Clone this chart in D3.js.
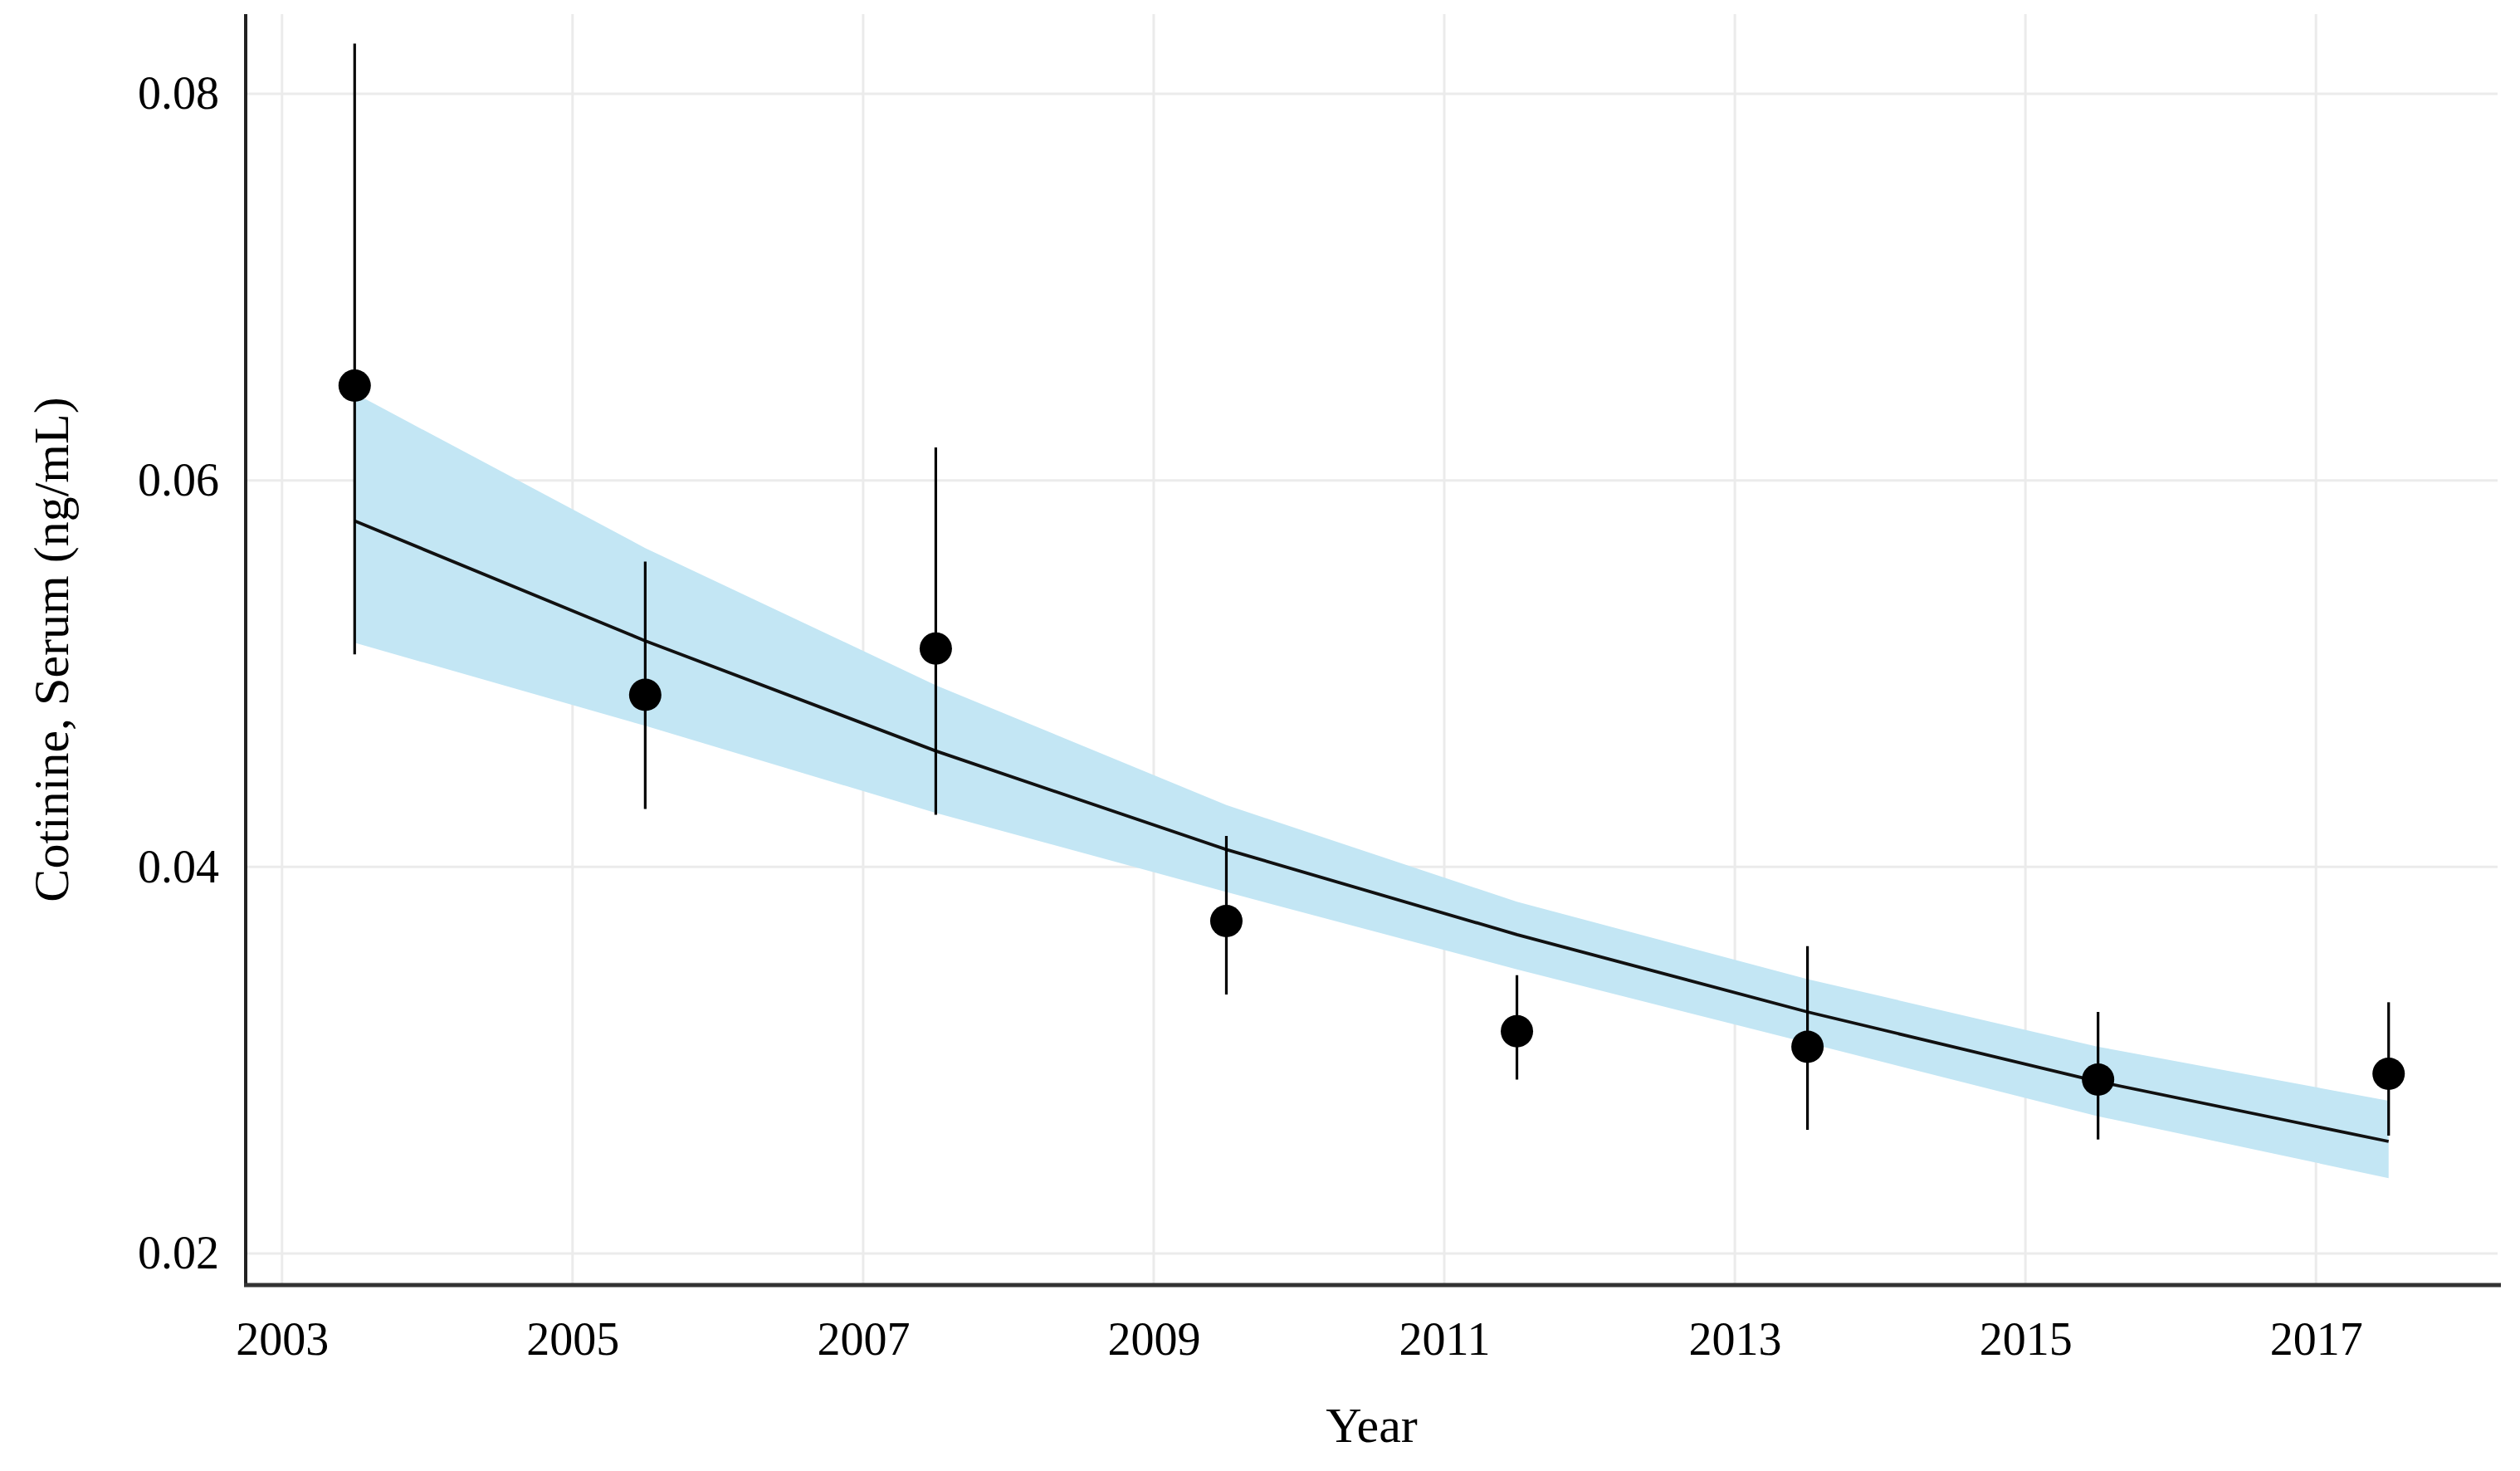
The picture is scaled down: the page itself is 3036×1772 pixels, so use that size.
<!DOCTYPE html>
<html lang="en">
<head>
  <meta charset="UTF-8">
  <title>Cotinine trend</title>
  <script src="https://cdn.jsdelivr.net/npm/d3@7/dist/d3.min.js"></script>
  <style>
    body { margin: 0; background: #fff; }
    text { font-family: "Liberation Serif", "DejaVu Serif", serif; fill: #000; }
  </style>
</head>
<body>
  <div id="main" style="width: 3036px; height: 1772px"></div>
  <script>
    // survey cycle midpoints and the observed means with their intervals
    const years = [2003.5, 2005.5, 2007.5, 2009.5, 2011.5, 2013.5, 2015.5, 2017.5];
    const meanValues = [0.0649, 0.0489, 0.0513, 0.0372, 0.0315, 0.0307, 0.0290, 0.0293];
    const lowerCI = [0.0510, 0.0430, 0.0427, 0.0334, 0.0290, 0.0264, 0.0259, 0.0261];
    const upperCI = [0.0826, 0.0558, 0.0617, 0.0416, 0.0344, 0.0359, 0.0325, 0.0330];

    // fitted trend and its band
    const fitValues = [0.0579, 0.0517, 0.0460, 0.0409, 0.0365, 0.0325, 0.0289, 0.0258];
    const fitUpper = [0.0645, 0.0565, 0.0494, 0.0432, 0.0382, 0.0342, 0.0307, 0.0279];
    const fitLower = [0.0516, 0.0473, 0.0428, 0.0387, 0.0347, 0.0309, 0.0271, 0.0239];

    const xTicks = [2003, 2005, 2007, 2009, 2011, 2013, 2015, 2017];
    const yTicks = [0.02, 0.04, 0.06, 0.08];

    const width = 3036, height = 1772;
    const plotLeft = 296, plotRight = 3009, plotTop = 17, plotBottom = 1548;

    const svg = d3.select("#main").append("svg")
      .attr("width", width)
      .attr("height", height);

    const x = d3.scaleLinear().domain([2002.75, 2018.25]).range([plotLeft, plotRight]);
    const y = d3.scaleLinear().domain([0.01837, 0.08412]).range([plotBottom, plotTop]);

    // grid
    svg.append("g").selectAll("line").data(xTicks).enter().append("line")
      .attr("x1", d => x(d)).attr("x2", d => x(d))
      .attr("y1", plotTop).attr("y2", plotBottom)
      .attr("stroke", "#ebebeb").attr("stroke-width", 3);
    svg.append("g").selectAll("line").data(yTicks).enter().append("line")
      .attr("x1", plotLeft).attr("x2", plotRight)
      .attr("y1", d => y(d)).attr("y2", d => y(d))
      .attr("stroke", "#ebebeb").attr("stroke-width", 3);

    const rows = years.map((yr, i) => ({
      year: yr, mean: meanValues[i], lo: lowerCI[i], hi: upperCI[i],
      fit: fitValues[i], fitLo: fitLower[i], fitHi: fitUpper[i]
    }));

    // band
    const area = d3.area()
      .x(d => x(d.year))
      .y0(d => y(d.fitLo))
      .y1(d => y(d.fitHi));
    svg.append("path").datum(rows)
      .attr("d", area)
      .attr("fill", "#c3e6f4");

    // fitted line
    const line = d3.line().x(d => x(d.year)).y(d => y(d.fit));
    svg.append("path").datum(rows)
      .attr("d", line)
      .attr("fill", "none")
      .attr("stroke", "#111")
      .attr("stroke-width", 3.8);

    // error bars
    svg.append("g").selectAll("line").data(rows).enter().append("line")
      .attr("x1", d => x(d.year)).attr("x2", d => x(d.year))
      .attr("y1", d => y(d.lo)).attr("y2", d => y(d.hi))
      .attr("stroke", "#000").attr("stroke-width", 3.2);

    // points
    svg.append("g").selectAll("circle").data(rows).enter().append("circle")
      .attr("cx", d => x(d.year))
      .attr("cy", d => y(d.mean))
      .attr("r", 19.5)
      .attr("fill", "#000");

    // axes
    const xAxis = svg.append("g").attr("transform", "translate(0," + plotBottom + ")")
      .call(d3.axisBottom(x).tickValues(xTicks).tickFormat(d3.format("d")).tickSize(0).tickPadding(44));
    xAxis.select(".domain").remove();
    xAxis.selectAll("text").attr("font-size", 56).attr("fill", "#000")
      .style("font-family", '"Liberation Serif", serif');

    const yAxis = svg.append("g").attr("transform", "translate(" + plotLeft + ",0)")
      .call(d3.axisLeft(y).tickValues(yTicks).tickFormat(d3.format(".2f")).tickSize(0).tickPadding(32));
    yAxis.select(".domain").remove();
    yAxis.selectAll("text").attr("font-size", 56).attr("fill", "#000")
      .style("font-family", '"Liberation Serif", serif');

    // axis lines
    svg.append("line")
      .attr("x1", plotLeft).attr("x2", plotLeft).attr("y1", plotTop).attr("y2", plotBottom + 2)
      .attr("stroke", "#222").attr("stroke-width", 4);
    svg.append("line")
      .attr("x1", plotLeft - 2).attr("x2", plotRight + 4).attr("y1", plotBottom).attr("y2", plotBottom)
      .attr("stroke", "#333").attr("stroke-width", 5);

    // titles
    svg.append("text")
      .attr("x", (plotLeft + plotRight) / 2)
      .attr("y", 1737)
      .attr("text-anchor", "middle")
      .attr("font-size", 60)
      .text("Year");

    svg.append("text")
      .attr("transform", "translate(82," + ((plotTop + plotBottom) / 2) + ") rotate(-90)")
      .attr("text-anchor", "middle")
      .attr("font-size", 60)
      .text("Cotinine, Serum (ng/mL)");
  </script>
</body>
</html>
